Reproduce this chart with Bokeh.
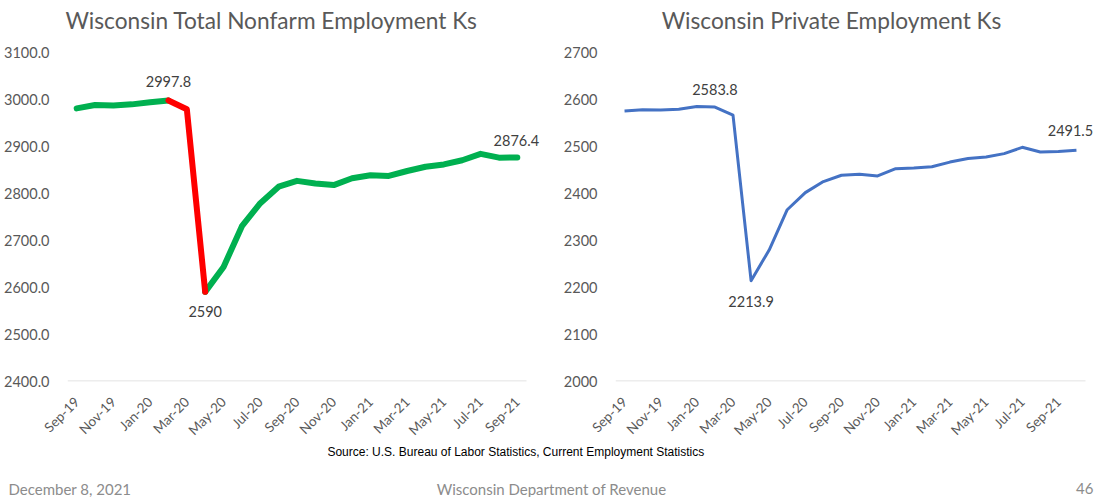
import numpy as np
from math import pi
from bokeh.plotting import figure
from bokeh.layouts import column, row
from bokeh.models import FixedTicker, Range1d, ColumnDataSource, LabelSet
from bokeh.embed import file_html
from bokeh.resources import INLINE
from bokeh.core.properties import value

# ---------------- data ----------------
months_total = ["Sep-19", "Oct-19", "Nov-19", "Dec-19", "Jan-20", "Feb-20", "Mar-20", "Apr-20",
                "May-20", "Jun-20", "Jul-20", "Aug-20", "Sep-20", "Oct-20", "Nov-20", "Dec-20",
                "Jan-21", "Feb-21", "Mar-21", "Apr-21", "May-21", "Jun-21", "Jul-21", "Aug-21",
                "Sep-21"]
total_nonfarm = [2981.0, 2988.0, 2987.0, 2989.5, 2994.0, 2997.8, 2979.0, 2590.0,
                 2643.0, 2730.0, 2779.0, 2814.0, 2826.5, 2821.0, 2817.5, 2832.0,
                 2838.5, 2837.0, 2847.5, 2856.5, 2861.5, 2870.5, 2884.0, 2876.0,
                 2876.4]

months_private = months_total + ["Oct-21"]
private_emp = [2575.5, 2578.0, 2577.5, 2579.0, 2584.8, 2583.8, 2566.4, 2213.9,
               2279.0, 2365.0, 2401.4, 2425.0, 2438.5, 2440.5, 2437.0, 2452.5,
               2454.0, 2456.5, 2466.5, 2474.0, 2477.5, 2484.5, 2498.0, 2488.0,
               2489.0, 2491.5]

title_total = "Wisconsin Total Nonfarm Employment Ks"
title_private = "Wisconsin Private Employment Ks"
source_note = "Source:  U.S. Bureau of Labor Statistics, Current Employment Statistics"
footer_left = "December 8, 2021"
footer_mid = "Wisconsin Department of Revenue"
footer_right = "46"

FONT = "Lato"
GREY = "#595959"


def fmt(v):
    return f"{v:g}"


def strip_fig(w, h):
    f = figure(width=w, height=h, output_backend="svg", toolbar_location=None,
               x_range=Range1d(0, w), y_range=Range1d(h, 0),
               min_border=0, x_axis_type=None, y_axis_type=None)
    f.outline_line_color = None
    f.grid.visible = False
    return f


def base_fig(months, y0, y1, width, bl, cat_px, yfmt):
    n = len(months)
    frame_w = width - bl - 1
    x_end = -0.5 + frame_w / cat_px
    p = figure(width=width, height=406, output_backend="svg", toolbar_location=None,
               x_range=Range1d(-0.5, x_end), y_range=Range1d(y0 - 1, y1),
               min_border_left=bl, min_border_right=1, min_border_top=12,
               min_border_bottom=64)
    p.outline_line_color = None
    p.grid.visible = False
    p.yaxis.ticker = FixedTicker(ticks=list(range(y0, y1 + 1, 100)))
    p.yaxis.major_label_overrides = {t: yfmt.format(t) for t in range(y0, y1 + 1, 100)}
    p.yaxis.axis_line_color = None
    p.yaxis.major_tick_line_color = None
    p.yaxis.minor_tick_line_color = None
    p.yaxis.major_label_text_font = FONT
    p.yaxis.major_label_text_font_size = "14.5px"
    p.yaxis.major_label_text_color = GREY
    p.yaxis.major_label_standoff = 12
    p.xaxis.ticker = FixedTicker(ticks=list(range(0, n, 2)))
    p.xaxis.major_label_overrides = {i: months[i] for i in range(0, n, 2)}
    p.xaxis.axis_line_color = None
    p.xaxis.major_tick_line_color = None
    p.xaxis.minor_tick_line_color = None
    p.xaxis.major_label_orientation = pi / 4
    p.xaxis.major_label_text_font = FONT
    p.xaxis.major_label_text_font_size = "13.5px"
    p.xaxis.major_label_text_color = GREY
    p.xaxis.major_label_standoff = 12
    # category axis baseline (spans only the categories)
    p.segment(x0=[-0.5], x1=[n - 0.5], y0=[y0], y1=[y0], line_color="#D9D9D9", line_width=1)
    return p


# ---------------- header (chart titles) ----------------
ph = strip_fig(1101, 40)
ph.text(x=[271, 831], y=[20, 20], text=[title_total, title_private],
        text_align="center", text_baseline="middle",
        text_font=value(FONT), text_font_size="22.7px", text_color=GREY)

# ---------------- left chart ----------------
tv = np.array(total_nonfarm)
xt = np.arange(len(tv))
i_peak = int(np.argmax(tv[:8]))
i_low = int(np.argmin(tv))
i_last = len(tv) - 1

p1 = base_fig(months_total, 2400, 3100, 555, 67, 459 / 25, "{:.1f}")
GREEN = "#00B050"
RED = "#FF0000"
p1.line(xt[:i_peak + 1], tv[:i_peak + 1], line_color=GREEN, line_width=6,
        line_join="round", line_cap="round")
p1.line(xt[i_low:], tv[i_low:], line_color=GREEN, line_width=6,
        line_join="round", line_cap="round")
p1.line(xt[i_peak:i_low + 1], tv[i_peak:i_low + 1], line_color=RED, line_width=6,
        line_join="round", line_cap="round")

lab1 = ColumnDataSource(dict(
    x=[i_peak, i_low, i_last],
    y=[tv[i_peak], tv[i_low], tv[i_last]],
    t=[fmt(tv[i_peak]), fmt(tv[i_low]), fmt(tv[i_last])],
    dy=[19, -20, 17],
    dx=[0, 0, -1],
))
p1.add_layout(LabelSet(x="x", y="y", text="t", source=lab1, x_offset="dx", y_offset="dy",
                       text_align="center", text_baseline="middle",
                       text_font=value(FONT), text_font_size="14.5px", text_color="#404040"))

# ---------------- right chart ----------------
pv = np.array(private_emp)
xp = np.arange(len(pv))
j_peak = 5
j_low = int(np.argmin(pv))
j_last = len(pv) - 1

p2 = base_fig(months_private, 2000, 2700, 546, 60, 470 / 26, "{:d}")
p2.line(xp, pv, line_color="#4472C4", line_width=3, line_join="round")
lab2 = ColumnDataSource(dict(
    x=[j_peak, j_low, j_last],
    y=[pv[j_peak], pv[j_low], pv[j_last]],
    t=[fmt(pv[j_peak]), fmt(pv[j_low]), fmt(pv[j_last])],
    dy=[18, -21, 20],
    dx=[0, 0, -6],
))
p2.add_layout(LabelSet(x="x", y="y", text="t", source=lab2, x_offset="dx", y_offset="dy",
                       text_align="center", text_baseline="middle",
                       text_font=value(FONT), text_font_size="14.5px", text_color="#404040"))

# ---------------- footer ----------------
pf = strip_fig(1101, 51)
pf.text(x=[517], y=[5], text=[source_note], text_align="center", text_baseline="middle",
        text_font=value("Liberation Sans"), text_font_size="12px", text_color="#000000")
pf.text(x=[8], y=[42], text=[footer_left], text_align="left", text_baseline="middle",
        text_font=value(FONT), text_font_size="15px", text_color="#8C8C8C")
pf.text(x=[551], y=[42], text=[footer_mid], text_align="center", text_baseline="middle",
        text_font=value(FONT), text_font_size="15px", text_color="#8C8C8C")
pf.text(x=[1093], y=[42], text=[footer_right], text_align="right", text_baseline="middle",
        text_font=value(FONT), text_font_size="15px", text_color="#8C8C8C")

layout = column(ph, row(p1, p2), pf)
open("out.html", "w").write(file_html(layout, INLINE))
